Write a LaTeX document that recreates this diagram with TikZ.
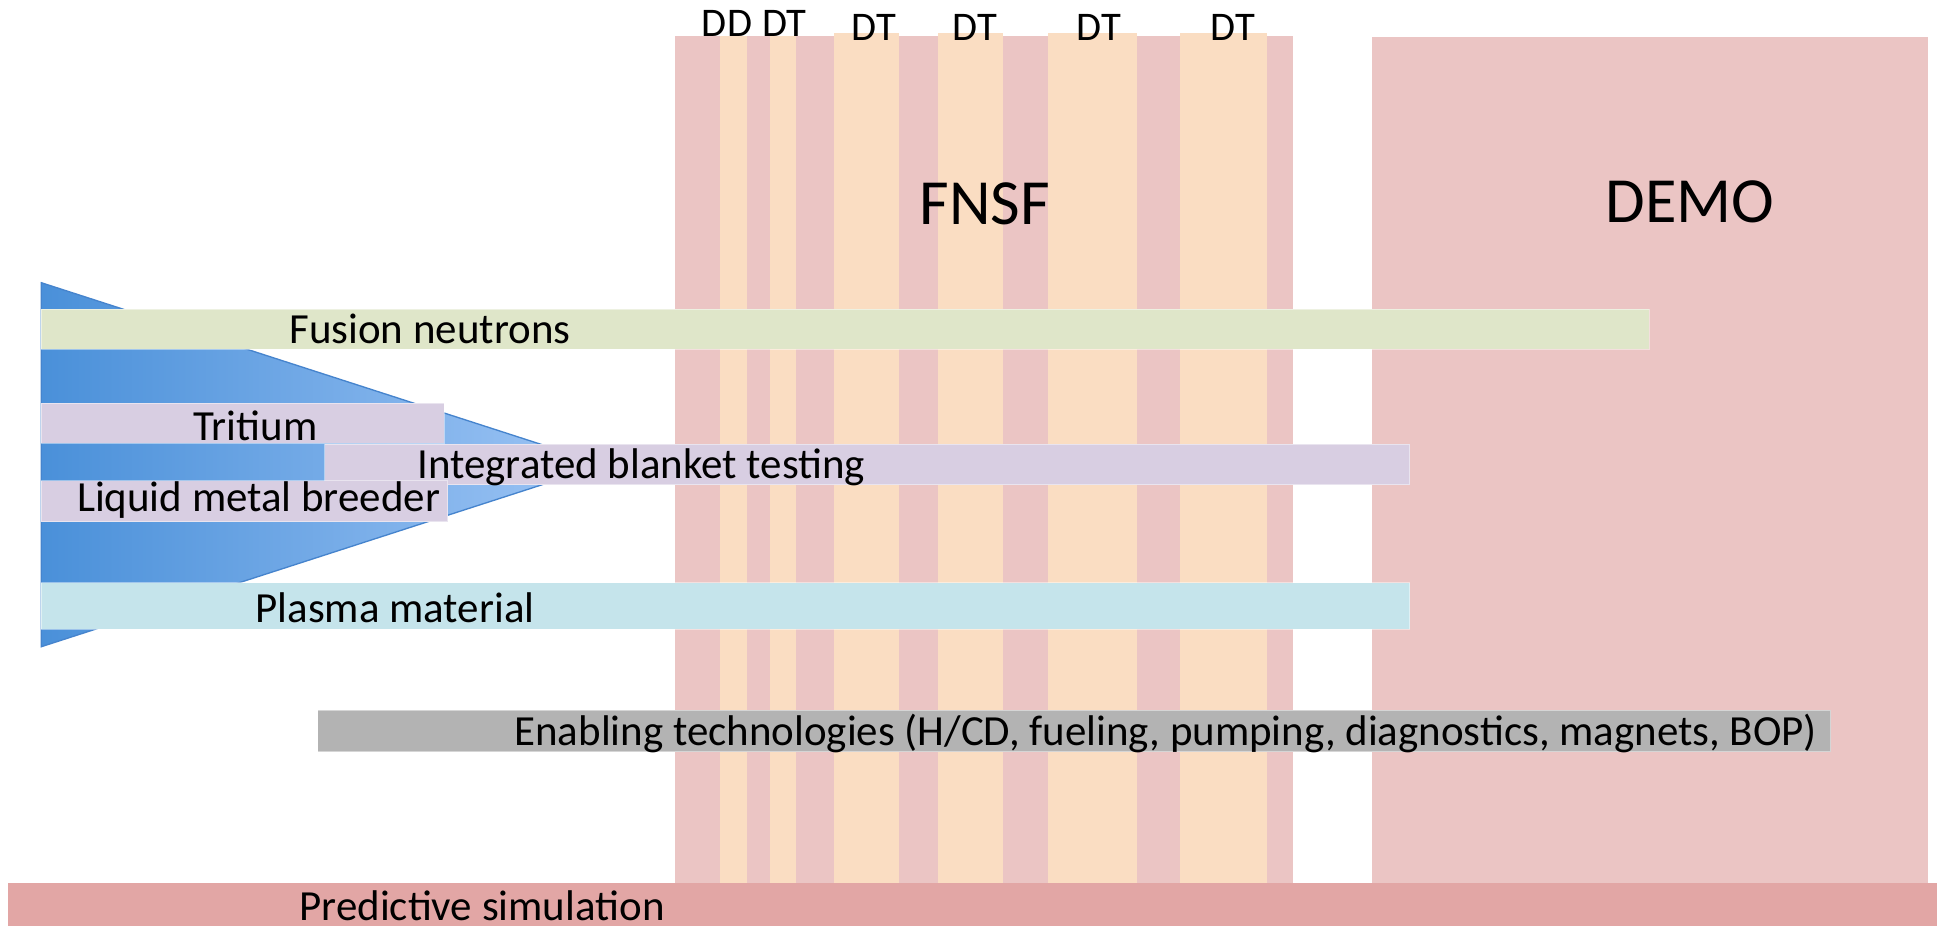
\documentclass[tikz,border=0pt]{standalone}
\usepackage{fontspec}
\setmainfont{Carlito}

\definecolor{stageback}{RGB}{235,197,196}
\definecolor{shotstripe}{RGB}{250,221,194}
\definecolor{neutrongreen}{RGB}{223,230,201}
\definecolor{blanketlilac}{RGB}{216,206,226}
\definecolor{plasmablue}{RGB}{197,228,235}
\definecolor{enablegray}{RGB}{179,179,179}
\definecolor{simrose}{RGB}{226,166,165}
\definecolor{wedgedark}{RGB}{74,144,217}
\definecolor{wedgelight}{RGB}{158,197,245}
\definecolor{wedgeedge}{RGB}{70,132,205}

\tikzset{every picture/.style={line width=0.75pt},
  bartext/.style={anchor=base west, inner sep=0pt, font=\fontsize{32.2}{36}\selectfont},
  phasetext/.style={anchor=base, inner sep=0pt, font=\fontsize{30.5}{34}\selectfont},
  stagetext/.style={anchor=base west, inner sep=0pt, font=\fontsize{48.3}{54}\selectfont},
  bar/.style={draw=white, draw opacity=0.45, line width=0.75pt}}

\begin{document}
\begin{tikzpicture}[x=0.75pt,y=0.75pt,yscale=-1,xscale=1]
	\useasboundingbox (0,0) rectangle (1937,926);
	
	%Shape: FNSF stage
	\fill [stageback] (674.5,36) rectangle (1293.4,883) ;
	%Shape: DT / DD campaigns
	\foreach \xa/\xb/\yt in {720/747/36, 769.5/796/36, 833.8/899/33.3, 937.8/1003/33.3, 1048/1137/33.3, 1179.5/1266.5/33.3}
		\fill [shotstripe] (\xa,\yt) rectangle (\xb,883) ;
	%Shape: DEMO stage
	\fill [stageback] (1371.8,37.3) rectangle (1927.7,883) ;
	
	%Shape: Triangle
	\shade [left color=wedgedark, right color=wedgelight] (41.3,282.7) -- (604,464.7) -- (41.3,646.7) -- cycle ;
	\draw [wedgeedge, line width=1pt] (41.3,282.7) -- (604,464.7) -- (41.3,646.7) -- cycle ;
	
	%Shape: Bars
	\filldraw [bar, fill=neutrongreen] (41.3,309.3) rectangle (1649,349.3) ;
	\filldraw [bar, fill=blanketlilac] (41.3,403.3) rectangle (444,443.3) ;
	\filldraw [bar, fill=blanketlilac] (324.5,444.3) rectangle (1409.7,484.7) ;
	\filldraw [bar, fill=blanketlilac] (41.3,480.7) rectangle (447.8,521.7) ;
	\filldraw [bar, fill=plasmablue] (41.3,582.7) rectangle (1409.7,629) ;
	\filldraw [bar, fill=enablegray] (317.9,710) rectangle (1830.7,751.7) ;
	\fill [simrose] (7.7,882.7) rectangle (1937,926) ;
	
	% Text Node
	\foreach \xc/\yb/\txt [count=\i] in {727/36/DD, 784.4/36.5/DT, 873.7/40/DT, 974.7/40/DT, 1099/40/DT, 1232.8/40/DT}
		\node [phasetext] (phase\i) at (\xc,\yb) {\txt};
	% Text Node
	\node [stagetext] (fnsf) at (919,224.3) {FNSF};
	% Text Node
	\node [stagetext] (demo) at (1605,222.7) {DEMO};
	% Text Node
	\node [bartext] (neutrons) at (289,343.3) {Fusion neutrons};
	% Text Node
	\node [bartext] (tritium) at (193,440.7) {Tritium};
	% Text Node
	\node [bartext] (blanket) at (417,478) {Integrated blanket testing};
	% Text Node
	\node [bartext] (breeder) at (76.5,511.7) {Liquid metal breeder};
	% Text Node
	\node [bartext] (plasma) at (255,622) {Plasma material};
	% Text Node
	\node [bartext] (enabling) at (514,745) {Enabling technologies (H/CD, fueling, pumping, diagnostics, magnets, BOP)};
	% Text Node
	\node [bartext] (simulation) at (299,920) {Predictive simulation};
	
\end{tikzpicture}
\end{document}
